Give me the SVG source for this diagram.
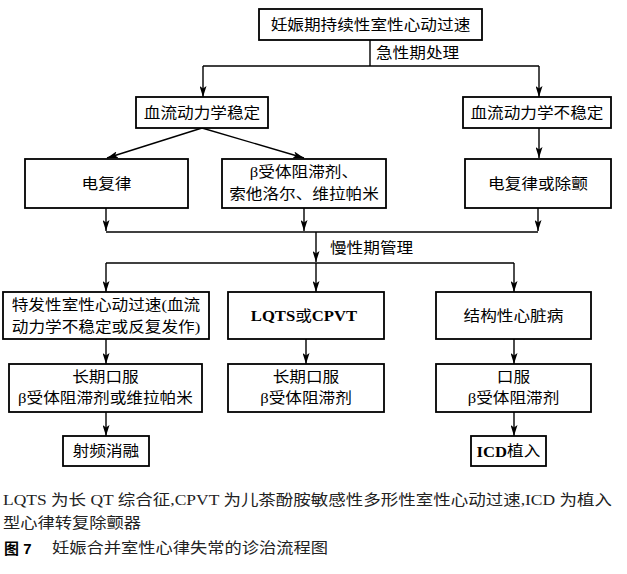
<svg xmlns="http://www.w3.org/2000/svg" width="627" height="574" viewBox="0 0 627 574">
<style>
.box{fill:#fff;stroke:#000;stroke-width:1.8}
.ln{fill:none;stroke:#000;stroke-width:1.4}
.t{font-family:"Liberation Serif","Noto Sans CJK SC",serif;font-size:15px;fill:#000;text-anchor:middle;dominant-baseline:central;transform-box:fill-box;transform-origin:center;transform:scaleX(1.11)}
.l{text-anchor:start;transform-origin:left center}
.b{font-weight:bold}
.cap{font-family:"Liberation Serif","Noto Sans CJK SC",serif;font-size:15px;fill:#222;dominant-baseline:central}
.capb{font-family:"Liberation Sans","Noto Sans CJK SC",sans-serif;font-size:15px;font-weight:bold;fill:#000;dominant-baseline:central}
</style>
<defs>
<marker id="a" markerUnits="userSpaceOnUse" markerWidth="11" markerHeight="7" refX="11" refY="3.5" orient="auto" viewBox="0 0 11 7">
<path d="M0,0 L11,3.5 L0,7 L2.5,3.5 z" fill="#000"/>
</marker>
</defs>

<g id="connectors">
<path class="ln" d="M370,40 V66"/>
<path class="ln" d="M203,66 H539"/>
<path class="ln" d="M203,66 V97" marker-end="url(#a)"/>
<path class="ln" d="M539,66 V97" marker-end="url(#a)"/>
<path class="ln" d="M202,128 L107,158" marker-end="url(#a)"/>
<path class="ln" d="M202,128 L304,158" marker-end="url(#a)"/>
<path class="ln" d="M539,128 V158" marker-end="url(#a)"/>
<path class="ln" d="M106,208 V231" marker-end="url(#a)"/>
<path class="ln" d="M304,208 V231" marker-end="url(#a)"/>
<path class="ln" d="M538,208 V231" marker-end="url(#a)"/>
<path class="ln" d="M106,232 H538"/>
<path class="ln" d="M316,232 V262" marker-end="url(#a)"/>
<path class="ln" d="M106,263 H514"/>
<path class="ln" d="M106,263 V292" marker-end="url(#a)"/>
<path class="ln" d="M316,263 V292" marker-end="url(#a)"/>
<path class="ln" d="M514,263 V292" marker-end="url(#a)"/>
<path class="ln" d="M106,339 V364" marker-end="url(#a)"/>
<path class="ln" d="M306,339 V364" marker-end="url(#a)"/>
<path class="ln" d="M514,339 V364" marker-end="url(#a)"/>
<path class="ln" d="M106,412 V436" marker-end="url(#a)"/>
<path class="ln" d="M514,412 V436" marker-end="url(#a)"/>
<text class="t l" x="376" y="53">急性期处理</text>
<text class="t l" x="330" y="248">慢性期管理</text>
</g>

<g id="n_top"><rect class="box" x="259" y="9" width="223" height="31"/><text class="t" x="370.5" y="24.5">妊娠期持续性室性心动过速</text></g>
<g id="n_stable"><rect class="box" x="136" y="97" width="132" height="31"/><text class="t" x="202" y="112.5">血流动力学稳定</text></g>
<g id="n_unstable"><rect class="box" x="463" y="97" width="148" height="31"/><text class="t" x="537" y="112.5">血流动力学不稳定</text></g>

<g id="n_cardio"><rect class="box" x="25" y="159" width="163" height="49"/><text class="t" x="106.5" y="183.5">电复律</text></g>
<g id="n_drug"><rect class="box" x="222" y="159" width="164" height="49"/><text class="t" x="304" y="172">β受体阻滞剂、</text><text class="t" x="304" y="194">索他洛尔、维拉帕米</text></g>
<g id="n_defib"><rect class="box" x="465" y="159" width="146" height="49"/><text class="t" x="538" y="183.5">电复律或除颤</text></g>

<g id="n_idio"><rect class="box" x="3" y="292" width="206" height="47"/><text class="t" x="106" y="305">特发性室性心动过速(血流</text><text class="t" x="106" y="327">动力学不稳定或反复发作)</text></g>
<g id="n_lqts"><rect class="box" x="228" y="292" width="156" height="47"/><text class="t" x="304" y="315.5"><tspan class="b">LQTS</tspan>或<tspan class="b">CPVT</tspan></text></g>
<g id="n_struct"><rect class="box" x="436" y="292" width="155" height="47"/><text class="t" x="513.5" y="315.5">结构性心脏病</text></g>

<g id="n_oral1"><rect class="box" x="9" y="364" width="193" height="48"/><text class="t" x="105.5" y="377">长期口服</text><text class="t" x="105.5" y="398">β受体阻滞剂或维拉帕米</text></g>
<g id="n_oral2"><rect class="box" x="228" y="364" width="156" height="48"/><text class="t" x="306" y="377">长期口服</text><text class="t" x="306" y="398">β受体阻滞剂</text></g>
<g id="n_oral3"><rect class="box" x="436" y="364" width="155" height="48"/><text class="t" x="513.5" y="377">口服</text><text class="t" x="513.5" y="398">β受体阻滞剂</text></g>

<g id="n_rfa"><rect class="box" x="63" y="436" width="86" height="30"/><text class="t" x="106" y="451">射频消融</text></g>
<g id="n_icd"><rect class="box" x="471" y="436" width="75" height="30"/><text class="t" x="508.5" y="451"><tspan class="b">ICD</tspan>植入</text></g>

<g id="caption">
<text class="cap" x="3" y="500" textLength="609" lengthAdjust="spacingAndGlyphs">LQTS 为长 QT 综合征,CPVT 为儿茶酚胺敏感性多形性室性心动过速,ICD 为植入</text>
<text class="cap" x="3" y="523" textLength="138" lengthAdjust="spacingAndGlyphs">型心律转复除颤器</text>
<text class="capb" x="4" y="548">图 7</text>
<text class="cap" x="52" y="548" textLength="276" lengthAdjust="spacingAndGlyphs">妊娠合并室性心律失常的诊治流程图</text>
</g>
</svg>
